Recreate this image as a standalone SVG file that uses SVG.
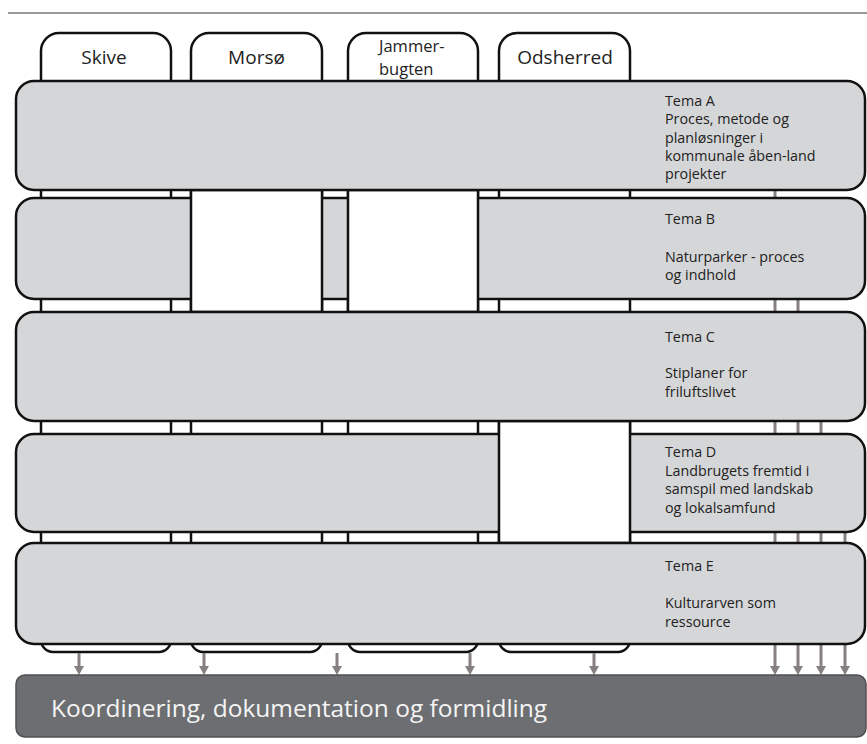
<svg xmlns="http://www.w3.org/2000/svg" width="867" height="744" viewBox="0 0 867 744">
  <style>
    .col { fill: #ffffff; stroke: #111111; stroke-width: 2.5; }
    .row { fill: #d5d6d8; stroke: #111111; stroke-width: 2.5; }
    .gap { fill: #ffffff; stroke: #111111; stroke-width: 2.5; }
    .tab { font-family: "Open Sans", "Noto Sans", sans-serif; font-size: 19px; fill: #222222; }
    .tab2 { font-family: "Open Sans", "Noto Sans", sans-serif; font-size: 16.5px; fill: #222222; }
    .lbl { font-family: "Open Sans", "Noto Sans", sans-serif; font-size: 14.3px; fill: #222222; }
    .bar { fill: #6d6e71; stroke: #4f5052; stroke-width: 1.5; }
    .bartxt { font-family: "Open Sans", "Noto Sans", sans-serif; font-size: 24.5px; fill: #f4f4f4; }
    .arr { stroke: #878081; stroke-width: 3; fill: none; marker-end: url(#ah); }
  </style>
  <defs>
    <marker id="ah" markerUnits="userSpaceOnUse" markerWidth="10" markerHeight="10" refX="0" refY="5" orient="auto">
      <path d="M0,0 L9,5 L0,10 Z" fill="#878081"/>
    </marker>
  </defs>
  <rect x="0" y="0" width="867" height="744" fill="#ffffff"/>
  <line x1="8" y1="13" x2="867" y2="13" stroke="#9a9a9a" stroke-width="2"/>

  <g id="columns">
    <g id="col-skive">
      <path class="col" d="M41,51 A18,18 0 0 1 59,33 H153 A18,18 0 0 1 171,51 V640 A12,12 0 0 1 159,652 H53 A12,12 0 0 1 41,640 Z"/>
      <text class="tab" x="104" y="64" text-anchor="middle">Skive</text>
    </g>
    <g id="col-morso">
      <path class="col" d="M191,51 A18,18 0 0 1 209,33 H304 A18,18 0 0 1 322,51 V640 A12,12 0 0 1 310,652 H203 A12,12 0 0 1 191,640 Z"/>
      <text class="tab" x="256.5" y="64" text-anchor="middle">Morsø</text>
    </g>
    <g id="col-jammerbugten">
      <path class="col" d="M348,51 A18,18 0 0 1 366,33 H460 A18,18 0 0 1 478,51 V640 A12,12 0 0 1 466,652 H360 A12,12 0 0 1 348,640 Z"/>
      <text class="tab2" x="379" y="52">Jammer-</text>
      <text class="tab2" x="379" y="75">bugten</text>
    </g>
    <g id="col-odsherred">
      <path class="col" d="M499,51 A18,18 0 0 1 517,33 H612 A18,18 0 0 1 630,51 V640 A12,12 0 0 1 618,652 H511 A12,12 0 0 1 499,640 Z"/>
      <text class="tab" x="565" y="64" text-anchor="middle">Odsherred</text>
    </g>
  </g>

  <g id="connectors">
    <line class="arr" x1="775" y1="190" x2="775" y2="666"/>
    <line class="arr" x1="798" y1="299" x2="798" y2="666"/>
    <line class="arr" x1="821" y1="421" x2="821" y2="666"/>
    <line class="arr" x1="845" y1="532" x2="845" y2="666"/>
    <line class="arr" x1="79" y1="653" x2="79" y2="666"/>
    <line class="arr" x1="204" y1="653" x2="204" y2="666"/>
    <line class="arr" x1="337" y1="653" x2="337" y2="666"/>
    <line class="arr" x1="470" y1="653" x2="470" y2="666"/>
    <line class="arr" x1="594" y1="653" x2="594" y2="666"/>
  </g>

  <g id="tema-b">
    <rect class="row" x="16" y="198" width="849" height="101" rx="18"/>
    <rect class="gap" x="191" y="190" width="131" height="122"/>
    <rect class="gap" x="348" y="190" width="130" height="122"/>
    <text class="lbl" x="665" y="224">Tema B</text>
    <text class="lbl" x="665" y="262">Naturparker - proces</text>
    <text class="lbl" x="665" y="280">og indhold</text>
  </g>

  <g id="tema-d">
    <rect class="row" x="16" y="434" width="849" height="98" rx="18"/>
    <rect class="gap" x="499" y="421" width="131" height="122"/>
    <text class="lbl" x="665" y="457">Tema D</text>
    <text class="lbl" x="665" y="476">Landbrugets fremtid i</text>
    <text class="lbl" x="665" y="494">samspil med landskab</text>
    <text class="lbl" x="665" y="513">og lokalsamfund</text>
  </g>

  <g id="tema-a">
    <rect class="row" x="16" y="81" width="849" height="109" rx="18"/>
    <text class="lbl" x="665" y="106">Tema A</text>
    <text class="lbl" x="665" y="124">Proces, metode og</text>
    <text class="lbl" x="665" y="143">planløsninger i</text>
    <text class="lbl" x="665" y="161">kommunale åben-land</text>
    <text class="lbl" x="665" y="179">projekter</text>
  </g>

  <g id="tema-c">
    <rect class="row" x="16" y="312" width="849" height="109" rx="18"/>
    <text class="lbl" x="665" y="342">Tema C</text>
    <text class="lbl" x="665" y="378">Stiplaner for</text>
    <text class="lbl" x="665" y="397">friluftslivet</text>
  </g>

  <g id="tema-e">
    <rect class="row" x="16" y="543" width="849" height="101" rx="18"/>
    <text class="lbl" x="665" y="571">Tema E</text>
    <text class="lbl" x="665" y="608">Kulturarven som</text>
    <text class="lbl" x="665" y="627">ressource</text>
  </g>

  <g id="koordinering">
    <rect class="bar" x="16" y="675" width="850" height="62" rx="9"/>
    <text class="bartxt" x="51" y="717">Koordinering, dokumentation og formidling</text>
  </g>
</svg>
